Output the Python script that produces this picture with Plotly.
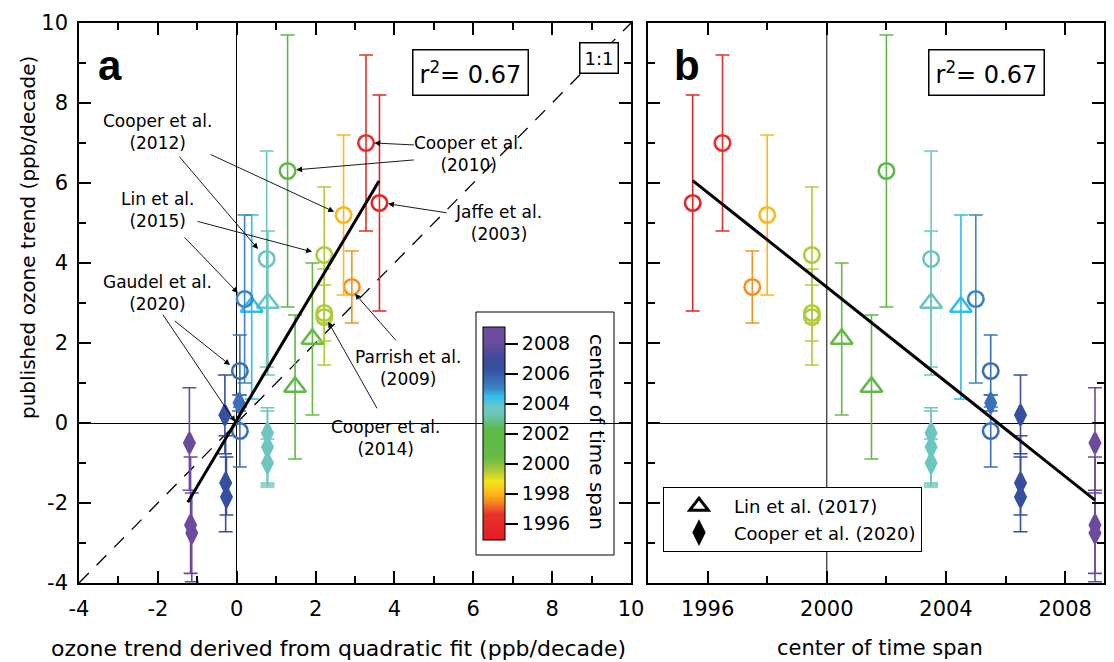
import plotly.graph_objects as go

# ---------------- data ----------------
# open circles: published trends
circ_quad = [3.62, 3.28, 2.92, 2.71, 2.22, 2.22, 2.22, 1.29, 0.76, 0.20, 0.08, 0.08]
circ_year = [1995.5, 1996.5, 1997.5, 1998.0, 1999.5, 1999.5, 1999.5, 2002.0, 2003.5, 2005.0, 2005.5, 2005.5]
circ_pub = [5.5, 7.0, 3.4, 5.2, 4.2, 2.75, 2.65, 6.3, 4.1, 3.1, 1.3, -0.2]
circ_err = [2.7, 2.2, 0.9, 2.0, 1.7, 0.7, 1.2, 3.4, 2.7, 2.1, 0.9, 0.9]

# open triangles: Lin et al. (2017)
tri_quad = [1.92, 1.48, 0.79, 0.38]
tri_year = [2000.5, 2001.5, 2003.5, 2004.5]
tri_pub = [2.1, 0.9, 3.0, 2.9]
tri_err = [1.9, 1.8, 1.8, 2.3]

# filled diamonds: Cooper et al. (2020)
dia_quad = [0.78, 0.78, 0.78, 0.06, -0.30, -0.28, -0.26, -1.20, -1.17, -1.14]
dia_year = [2003.5, 2003.5, 2003.5, 2005.5, 2006.5, 2006.5, 2006.5, 2009.0, 2009.0, 2009.0]
dia_pub = [-0.25, -0.6, -1.0, 0.5, 0.2, -1.5, -1.85, -0.5, -2.55, -2.75]
dia_err_up = [0.63, 0.9, 0.6, 0.2, 1.0, 1.18, 1.0, 1.38, 1.7, 1.0]
dia_err_dn = [1.25, 1.0, 0.55, 0.2, 0.97, 1.22, 0.45, 1.18, 1.21, 1.22]

# regression lines
fit_a_x = [-1.24, 3.61]
fit_a_y = [-1.98, 6.05]
fit_b_x = [1995.5, 2009.0]
fit_b_y = [6.06, -1.93]
one_to_one = [-4, 10]
ref_year = 2000
r2_text = "r<sup>2</sup>= 0.67"

# axis ticks
a_ticks = [-4, -2, 0, 2, 4, 6, 8, 10]
a_ticktext = ["-4", "-2", "0", "2", "4", "6", "8", "10"]
b_ticks = [1996, 2000, 2004, 2008]
b_ticktext = ["1996", "2000", "2004", "2008"]
cb_ticks = [1996, 1998, 2000, 2002, 2004, 2006, 2008]
cb_ticktext = ["1996", "1998", "2000", "2002", "2004", "2006", "2008"]

# annotations (label text, position) and arrows (tail -> tip) in panel-a data units
labels = [
    ("Cooper et al.<br>(2012)", -2.02, 7.28),
    ("Lin et al.<br>(2015)", -2.02, 5.33),
    ("Gaudel et al.<br>(2020)", -2.02, 3.25),
    ("Cooper et al.<br>(2010)", 5.89, 6.73),
    ("Jaffe et al.<br>(2003)", 6.65, 5.00),
    ("Parrish et al.<br>(2009)", 4.34, 1.38),
    ("Cooper et al.<br>(2014)", 3.77, -0.38),
]
arrows = [
    (-1.49, 6.70, 0.54, 4.35),
    (-0.70, 6.73, 2.47, 5.28),
    (-1.03, 5.05, 1.91, 4.28),
    (-1.36, 4.68, 0.03, 3.25),
    (-1.61, 2.58, -0.17, 1.45),
    (-1.90, 2.75, -0.04, 0.03),
    (4.53, 6.95, 3.49, 7.00),
    (4.53, 6.58, 1.51, 6.33),
    (5.36, 5.25, 3.84, 5.48),
    (4.07, 2.03, 3.00, 3.23),
    (3.58, 0.33, 2.32, 2.53),
]

# colour scale (center of time span)
cmin, cmax = 1994.9, 2009.1
cs_stops = [
    (1994.9, "#e31e24"), (1996.6, "#e8302b"), (1997.5, "#f7901e"), (1998.0, "#fcb817"),
    (1998.8, "#f2e51a"), (1999.5, "#aecb38"), (2000.4, "#68b946"), (2002.3, "#5cb848"),
    (2003.3, "#6cc6bb"), (2003.8, "#6cc6c4"), (2004.5, "#2ebdef"), (2005.0, "#3a86c8"),
    (2005.5, "#3b70b9"), (2006.3, "#33509f"), (2007.0, "#3d4c9f"), (2008.0, "#6a4c9c"),
    (2009.1, "#6c4b9e"),
]
colorscale = [[(y - cmin) / (cmax - cmin), c] for y, c in cs_stops]


def hex2rgb(h):
    h = h.lstrip("#")
    return tuple(int(h[i:i + 2], 16) for i in (0, 2, 4))


def year_color(yr):
    for (y0, c0), (y1, c1) in zip(cs_stops[:-1], cs_stops[1:]):
        if y0 <= yr <= y1:
            t = (yr - y0) / (y1 - y0)
            a, b = hex2rgb(c0), hex2rgb(c1)
            return "rgb(%d,%d,%d)" % tuple(round(a[i] + (b[i] - a[i]) * t) for i in range(3))
    return cs_stops[-1][1]


# screen-pixel layout of the plotting region (page body adds an 8px offset)
PL, PR, PT, PB = 79, 1104, 23, 583
PW, PH = PR - PL, PB - PT


def px_x(p):
    return (p - PL) / PW


def px_y(p):
    return (PB - p) / PH


fig = go.Figure()

FONT = "DejaVu Sans"

# 1:1 line
fig.add_trace(go.Scatter(x=one_to_one, y=one_to_one, mode="lines", xaxis="x", yaxis="y",
                         line=dict(color="black", width=1.3, dash="14px,11px"),
                         showlegend=False, hoverinfo="skip"))


def add_point(xv, yv, up, dn, col, symbol, size, filled, axis):
    xa, ya = axis
    if filled:
        marker = dict(symbol=symbol, size=size, color=col, line=dict(color=col, width=3))
    else:
        marker = dict(symbol=symbol, size=size, color=col, line=dict(color=col, width=2.6))
    fig.add_trace(go.Scatter(
        x=[xv], y=[yv], mode="markers", xaxis=xa, yaxis=ya, marker=marker,
        error_y=dict(type="data", symmetric=False, array=[up], arrayminus=[dn],
                     color=col, thickness=1.6, width=7),
        showlegend=False, hoverinfo="skip"))


for axis, xs_c, xs_t, xs_d in [(("x", "y"), circ_quad, tri_quad, dia_quad),
                               (("x2", "y2"), circ_year, tri_year, dia_year)]:
    for i in range(len(dia_pub)):
        add_point(xs_d[i], dia_pub[i], dia_err_up[i], dia_err_dn[i], year_color(dia_year[i]),
                  "diamond-tall", 14, True, axis)
    for i in range(len(tri_pub)):
        add_point(xs_t[i], tri_pub[i], tri_err[i], tri_err[i], year_color(tri_year[i]),
                  "triangle-up-open", 19, False, axis)
    for i in range(len(circ_pub)):
        add_point(xs_c[i], circ_pub[i], circ_err[i], circ_err[i], year_color(circ_year[i]),
                  "circle-open", 15.5, False, axis)

# regression lines
fig.add_trace(go.Scatter(x=fit_a_x, y=fit_a_y, mode="lines", xaxis="x", yaxis="y",
                         line=dict(color="black", width=3), showlegend=False, hoverinfo="skip"))
fig.add_trace(go.Scatter(x=fit_b_x, y=fit_b_y, mode="lines", xaxis="x2", yaxis="y2",
                         line=dict(color="black", width=3), showlegend=False, hoverinfo="skip"))

# colorbar carrier
all_years = circ_year + tri_year + dia_year
fig.add_trace(go.Scatter(
    x=circ_quad + tri_quad + dia_quad, y=circ_pub + tri_pub + dia_pub, mode="markers",
    xaxis="x", yaxis="y", hoverinfo="skip", showlegend=False,
    marker=dict(size=1, opacity=0, color=all_years, colorscale=colorscale, cmin=cmin, cmax=cmax,
                showscale=True,
                colorbar=dict(x=px_x(483), xanchor="left", xpad=0, y=px_y(433.5), yanchor="middle",
                              ypad=0, len=213 / PH, lenmode="fraction", thickness=22,
                              thicknessmode="pixels", outlinewidth=1, outlinecolor="black",
                              tickmode="array", tickvals=cb_ticks, ticktext=cb_ticktext,
                              ticks="outside", ticklen=13, tickwidth=1.5, tickcolor="black",
                              tickfont=dict(size=19, family=FONT, color="black")))))

# legend entries
fig.add_trace(go.Scatter(x=[None], y=[None], mode="markers", xaxis="x2", yaxis="y2",
                         name="Lin et al. (2017)",
                         marker=dict(symbol="triangle-up-open", size=20, color="black",
                                     line=dict(color="black", width=3))))
fig.add_trace(go.Scatter(x=[None], y=[None], mode="markers", xaxis="x2", yaxis="y2",
                         name="Cooper et al. (2020)",
                         marker=dict(symbol="diamond-tall", size=16, color="black",
                                     line=dict(color="black", width=2))))

axis_common = dict(showline=True, linecolor="black", linewidth=1.5, mirror="ticks",
                   ticks="inside", ticklen=12, tickwidth=1.5, tickcolor="black",
                   showgrid=False, zeroline=True, zerolinecolor="black", zerolinewidth=1,
                   automargin=False,
                   tickfont=dict(size=21, family=FONT, color="black"))
minor_common = dict(ticks="inside", ticklen=7, tickwidth=1.5, tickcolor="black")

x2_max = 1996 + (PR - 707.6) / 29.8

fig.update_layout(
    width=1106, height=654,
    margin=dict(l=PL - 8, r=1114 - PR, t=PT - 8, b=662 - PB, autoexpand=False),
    plot_bgcolor="white", paper_bgcolor="white",
    font=dict(family=FONT, color="black"),
    xaxis=dict(domain=[0, px_x(631)], range=[-4, 10], tickmode="array", tickvals=a_ticks,
               ticktext=a_ticktext, ticklabelstandoff=6,
               minor=dict(tick0=-4, dtick=1, **minor_common),
               anchor="y", **axis_common),
    yaxis=dict(domain=[0, 1], range=[-4, 10], tickmode="array", tickvals=a_ticks,
               ticktext=a_ticktext, ticklabelstandoff=5,
               minor=dict(tick0=-4, dtick=1, **minor_common),
               anchor="x", **axis_common),
    xaxis2=dict(domain=[px_x(648), 1], range=[1994, x2_max], tickmode="array", tickvals=b_ticks,
                ticktext=b_ticktext, ticklabelstandoff=6,
                minor=dict(tick0=1994, dtick=2, **minor_common),
                anchor="y2", **axis_common),
    yaxis2=dict(domain=[0, 1], range=[-4, 10], tickmode="array", tickvals=a_ticks,
                showticklabels=False,
                minor=dict(tick0=-4, dtick=1, **minor_common),
                anchor="x2", **axis_common),
    legend=dict(x=px_x(663), xanchor="left", y=px_y(487), yanchor="top", bordercolor="black",
                borderwidth=1, bgcolor="white", font=dict(size=18, family=FONT, color="black"),
                itemsizing="trace", tracegroupgap=0, itemwidth=60),
)

shapes = [
    dict(type="line", xref="x2", yref="paper", x0=ref_year, x1=ref_year, y0=0, y1=1,
         line=dict(color="black", width=1), layer="below"),
    dict(type="rect", xref="paper", yref="paper", x0=px_x(476), x1=px_x(614), y0=px_y(555),
         y1=px_y(312), line=dict(color="black", width=1), fillcolor="white", layer="below"),
]
fig.update_layout(shapes=shapes)

ann = []
for text, x, y in labels:
    ann.append(dict(text=text, x=x, y=y, xref="x", yref="y", showarrow=False,
                    font=dict(size=17, family=FONT, color="black"), align="center"))
for ax_, ay_, x, y in arrows:
    ann.append(dict(text="", x=x, y=y, ax=ax_, ay=ay_, xref="x", yref="y", axref="x", ayref="y",
                    showarrow=True, arrowhead=2, arrowsize=1.3, arrowwidth=0.9,
                    arrowcolor="black", standoff=0, startstandoff=0))


def pann(text, x, y, size, family=FONT, angle=0, box=False, pad=4):
    d = dict(text=text, xref="paper", yref="paper", x=px_x(x), y=px_y(y), xanchor="center",
             yanchor="middle", showarrow=False, textangle=angle,
             font=dict(size=size, family=family, color="black"))
    if box:
        d.update(bordercolor="black", borderwidth=1.5, borderpad=pad, bgcolor="white")
    ann.append(d)


pann(r2_text, 470, 72, 24, box=True, pad=6)
pann(r2_text, 986, 72, 24, box=True, pad=6)
pann("1:1", 599, 58, 18, box=True, pad=4)
pann("<b>a</b>", 110, 66, 42, family="Liberation Sans")
pann("<b>b</b>", 687, 66, 42, family="Liberation Sans")
pann("ozone trend derived from quadratic fit (ppb/decade)", 338, 648, 22)
pann("center of time span", 880, 648, 21)
pann("published ozone trend (ppb/decade)", 28, 238, 20, angle=-90)
pann("center of time span", 597, 432, 20, angle=90)
fig.update_layout(annotations=ann)

fig.write_html("out.html")
